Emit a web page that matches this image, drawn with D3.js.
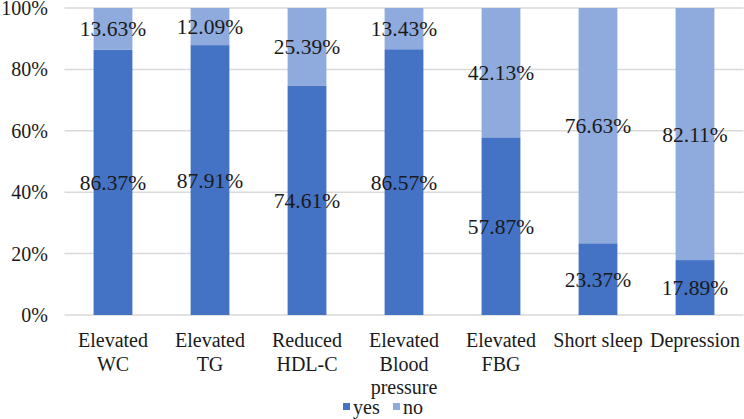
<!DOCTYPE html>
<html>
<head>
<meta charset="utf-8">
<script src="https://cdn.jsdelivr.net/npm/d3@7"></script>
<style>
  body { margin: 0; background: #fff; }
</style>
</head>
<body>
<svg id="chart" width="744" height="419"></svg>
<script>
// data
var categories = ["Elevated WC", "Elevated TG", "Reduced HDL-C", "Elevated Blood pressure", "Elevated FBG", "Short sleep", "Depression"];
var tickLabels = [["Elevated", "WC"], ["Elevated", "TG"], ["Reduced", "HDL-C"], ["Elevated", "Blood", "pressure"], ["Elevated", "FBG"], ["Short sleep"], ["Depression"]];
var yesValues = [86.37, 87.91, 74.61, 86.57, 57.87, 23.37, 17.89];
var noValues = [13.63, 12.09, 25.39, 13.43, 42.13, 76.63, 82.11];
var yTicks = [0, 20, 40, 60, 80, 100];
var seriesNames = ["yes", "no"];
var seriesColors = ["#4472c4", "#8faadc"];

var fontFam = "'Liberation Serif', Tinos, 'DejaVu Serif', serif";
var svg = d3.select("#chart")
    .attr("font-family", fontFam)
    .attr("fill", "#1a1a1a");
var plotLeft = 64.5, plotRight = 743.5, plotTop = 8, plotBottom = 315;

var x = d3.scaleBand()
    .domain(categories)
    .range([plotLeft, plotRight])
    .paddingInner(0.6)
    .paddingOuter(0.3);

var y = d3.scaleLinear()
    .domain([0, 100])
    .range([plotBottom, plotTop]);

// 网格线
svg.append("g").selectAll("line")
    .data(yTicks)
    .enter().append("line")
    .attr("x1", plotLeft)
    .attr("x2", plotRight)
    .attr("y1", function(d) { return y(d); })
    .attr("y2", function(d) { return y(d); })
    .attr("stroke", "#d9d9d9")
    .attr("stroke-width", 1.5);

// y轴标签
svg.append("g").selectAll("text")
    .data(yTicks)
    .enter().append("text")
    .attr("x", 48)
    .attr("y", function(d) { return y(d); })
    .attr("dy", "0.35em")
    .attr("text-anchor", "end")
    .style("font-size", "20px")
    .text(function(d) { return d + "%"; });

// stacked rows
var rows = categories.map(function(c, i) { return { cat: c, yes: yesValues[i], no: noValues[i] }; });
var stack = d3.stack().keys(seriesNames);
var layers = stack(rows);

var groups = svg.append("g").selectAll("g")
    .data(layers)
    .enter().append("g");

groups.selectAll("rect")
    .data(function(d) { return d; })
    .enter().append("rect")
    .attr("x", function(d) { return x(d.data.cat); })
    .attr("width", x.bandwidth())
    .attr("y", function(d) { return y(d[1]); })
    .attr("height", function(d) { return y(d[0]) - y(d[1]); })
    .attr("fill", function() { return seriesColors[seriesNames.indexOf(d3.select(this.parentNode).datum().key)]; });

// 数值标签, 放在每段中间
groups.selectAll("text")
    .data(function(d) { return d.map(function(p) { return { p: p, key: d.key }; }); })
    .enter().append("text")
    .attr("x", function(d) { return x(d.p.data.cat) + x.bandwidth() / 2; })
    .attr("y", function(d) { return y((d.p[0] + d.p[1]) / 2); })
    .attr("dy", "0.35em")
    .attr("text-anchor", "middle")
    .style("font-size", "21.5px")
    .text(function(d) { return d.p.data[d.key].toFixed(2) + "%"; });

// x轴标签
var xl = svg.append("g").selectAll("text")
    .data(categories)
    .enter().append("text")
    .attr("text-anchor", "middle")
    .attr("x", function(d) { return x(d) + x.bandwidth() / 2; })
    .attr("y", 347)
    .style("font-size", "20px");
xl.selectAll("tspan")
    .data(function(d, i) { return tickLabels[i]; })
    .enter().append("tspan")
    .attr("x", function() { return d3.select(this.parentNode).attr("x"); })
    .attr("dy", function(d, i) { return i === 0 ? 0 : 23.5; })
    .text(function(d) { return d; });

// 图例
var legend = svg.append("g").attr("transform", "translate(343,407)");
var items = legend.selectAll("g")
    .data(seriesNames)
    .enter().append("g")
    .attr("transform", function(d, i) { return "translate(" + (i * 50) + ",0)"; });
items.append("rect")
    .attr("x", 0)
    .attr("y", -4)
    .attr("width", 7)
    .attr("height", 7)
    .attr("fill", function(d, i) { return seriesColors[i]; });
items.append("text")
    .attr("x", 10)
    .attr("y", 0)
    .attr("dy", "0.35em")
    .style("font-size", "20px")
    .text(function(d) { return d; });
</script>
</body>
</html>
